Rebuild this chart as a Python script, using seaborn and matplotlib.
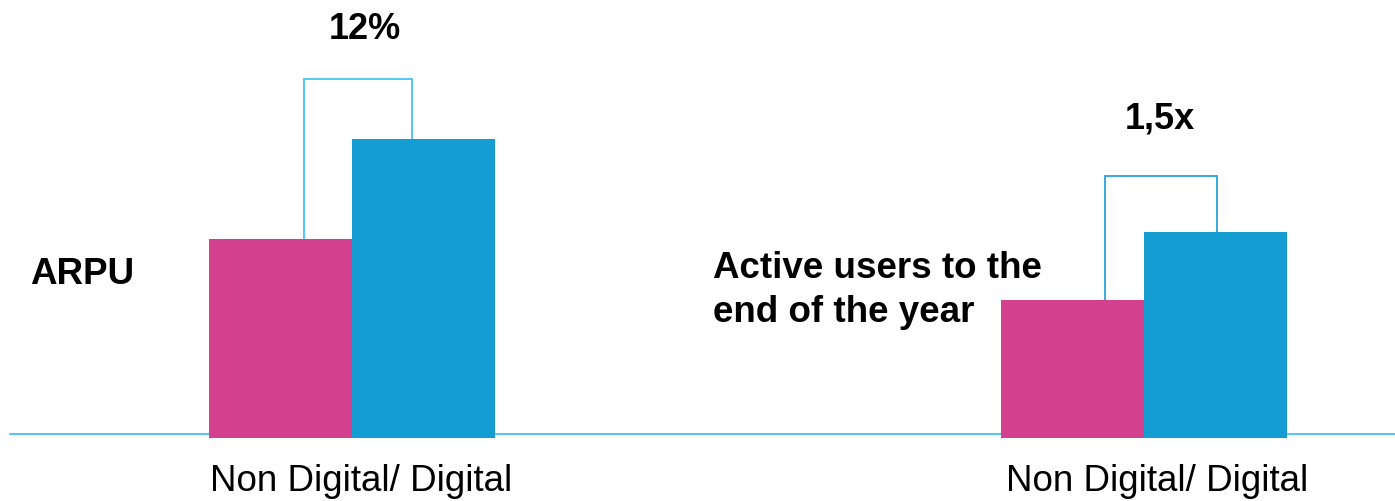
import matplotlib
matplotlib.use("Agg")
import matplotlib.pyplot as plt
import seaborn as sns
import pandas as pd

# Data
groups = ["ARPU", "Active users to the\nend of the year"]
kinds = ["Non Digital", "Digital"]
non_digital = [1.99, 1.38]
digital = [2.99, 2.06]
change_labels = ["12%", "1,5x"]
tick_labels = ["Non Digital/ Digital", "Non Digital/ Digital"]

df = pd.DataFrame({
    "group": groups * 2,
    "kind": [kinds[0]] * 2 + [kinds[1]] * 2,
    "value": non_digital + digital,
})

PINK = "#d3418e"
BLUE = "#139dd3"
LINE = "#5cc4ee"

sns.set_theme(style="white")
plt.rcParams["font.family"] = ["Liberation Sans", "DejaVu Sans"]

fig = plt.figure(figsize=(13.95, 5.02), dpi=100)
ax = fig.add_axes([0, 63 / 502, 1, 439 / 502])

sns.barplot(data=df, x="group", y="value", hue="kind", order=groups,
            hue_order=kinds, palette=[PINK, BLUE], width=0.36, gap=0,
            saturation=1, ax=ax, legend=False, zorder=2, linewidth=0)

ax.set_xlim(-0.4444, 1.3169)
ax.set_ylim(0, 4.39)
for s in ax.spines.values():
    s.set_visible(False)
ax.set_yticks([])
ax.set_xlabel("")
ax.set_ylabel("")
# labels sit a little right of each group's centre
ax.set_xticks([0.012, 1.016])
ax.set_xticklabels(tick_labels, fontsize=26.5, color="black")
ax.tick_params(axis="x", length=0, pad=18)

# baseline
ax.axhline(0.04, xmin=10 / 1395, xmax=1, color=LINE, lw=1.5, zorder=1)

# brackets between the two bars of each group
bracket_left = [-0.061, -0.049]
bracket_right = [0.076, 0.092]
bracket_top = [3.59, 2.62]
bracket_colors = ["#45c3f2", "#2aa3da"]
for i in range(len(groups)):
    xl = i + bracket_left[i]
    xr = i + bracket_right[i]
    ax.plot([xl, xl, xr, xr],
            [non_digital[i], bracket_top[i], bracket_top[i], digital[i]],
            color=bracket_colors[i], lw=1.3, zorder=1.5,
            solid_joinstyle="miter")

# change labels
label_pos = [(0.016, 4.09), (1.02, 3.20)]
for (x, y), t in zip(label_pos, change_labels):
    ax.text(x, y, t, ha="center", va="center", fontsize=26,
            fontweight="bold", color="black")

# group titles
ax.text(-0.4066, 1.64, groups[0], ha="left", va="center", fontsize=26.5,
        fontweight="bold", color="black")
ax.text(0.4558, 1.485, groups[1], ha="left", va="center", fontsize=26.5,
        fontweight="bold", color="black", linespacing=1.3)

fig.savefig("out.png", dpi=100)
